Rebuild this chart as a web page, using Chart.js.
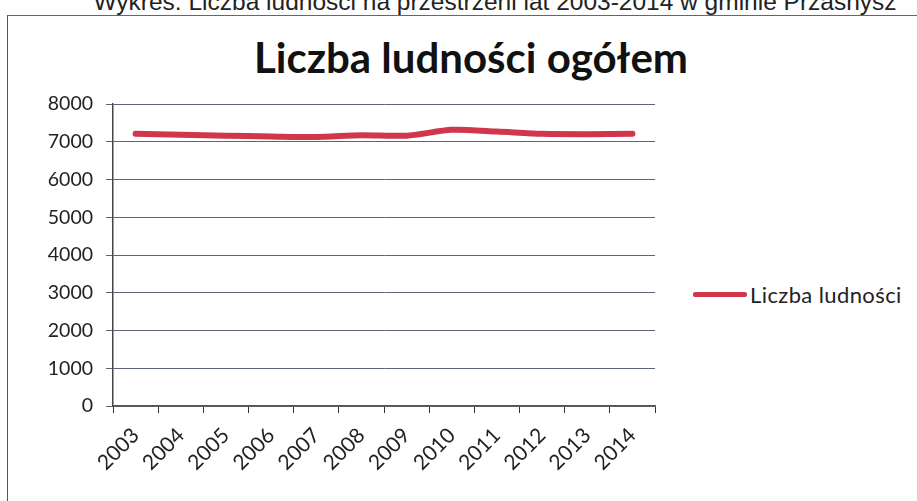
<!DOCTYPE html>
<html>
<head>
<meta charset="utf-8">
<script src="https://cdn.jsdelivr.net/npm/chart.js@4.4.1/dist/chart.umd.min.js"></script>
<style>
  html, body { margin: 0; padding: 0; background: #fff; }
  #wrap { position: relative; width: 917px; height: 501px; overflow: hidden; background: #fff; }
  #caption { position: absolute; left: 0; width: 990px; top: -12px; text-align: center;
    font-family: "Liberation Sans", Arial, sans-serif; font-size: 24.5px; color: #222; white-space: nowrap; }
  #frame { position: absolute; left: 7px; top: 15px; width: 920px; height: 500px;
    border-left: 1.5px solid #555; border-top: 1.5px solid #666; }
  #title { position: absolute; left: 0; width: 942px; top: 32px; text-align: center;
    font-family: Lato, "Open Sans", sans-serif; font-weight: bold; font-size: 42px; color: #111; }
  #legend { position: absolute; left: 693px; top: 281px; font-family: Lato, sans-serif; font-size: 22px; color: #222;
    display: flex; align-items: center; white-space: nowrap; letter-spacing: 0.4px; }
  #legend .swatch { display: inline-block; width: 54px; height: 5px; border-radius: 2px; margin-right: 3px; }
  canvas { position: absolute; left: 0; top: 0; }
</style>
</head>
<body>
<div id="wrap">
  <div id="caption">Wykres: Liczba ludności na przestrzeni lat 2003-2014 w gminie Przasnysz</div>
  <div id="frame"></div>
  <div id="title">Liczba ludności ogółem</div>
  <div id="legend"><span class="swatch"></span><span id="legendText"></span></div>
  <canvas id="c" width="917" height="501"></canvas>
</div>
<script>
const categories = ["2003","2004","2005","2006","2007","2008","2009","2010","2011","2012","2013","2014"];
const seriesLabel = "Liczba ludności";
const population = [7210, 7185, 7160, 7140, 7125, 7175, 7160, 7315, 7270, 7210, 7200, 7210];
const yTicks = [0, 1000, 2000, 3000, 4000, 5000, 6000, 7000, 8000];

const lineColor = "#d2364b";
document.querySelector('#legend .swatch').style.background = lineColor;
document.getElementById('legendText').textContent = seriesLabel;

new Chart(document.getElementById('c'), {
  type: 'line',
  data: {
    labels: categories,
    datasets: [{
      label: seriesLabel,
      data: population,
      borderColor: lineColor,
      backgroundColor: lineColor,
      borderWidth: 6,
      pointRadius: 0,
      tension: 0.25,
      borderCapStyle: 'round'
    }]
  },
  options: {
    responsive: false,
    animation: false,
    layout: { padding: { left: 0, right: 262, top: 104, bottom: 0 } },
    plugins: { legend: { display: false }, tooltip: { enabled: false } },
    scales: {
      x: {
        offset: true,
        grid: { display: true, drawOnChartArea: false, drawTicks: true, tickLength: 7, offset: true, color: '#333' },
        border: { display: true, color: '#555', width: 1.5 },
        ticks: { minRotation: 45, maxRotation: 45, autoSkip: false, padding: 10,
          font: { family: 'Lato', size: 21 }, color: '#222' },
        afterFit: s => { s.height = 95; }
      },
      y: {
        min: 0, max: 8000,
        afterBuildTicks: s => { s.ticks = yTicks.map(v => ({ value: v })); },
        grid: { color: '#5c6478', lineWidth: 1, tickLength: 7 },
        border: { display: true, color: '#444', width: 1.5 },
        ticks: { padding: 13, font: { family: 'Lato', size: 19.5 }, color: '#222',
          callback: v => String(v) },
        afterFit: s => { s.width = 113; }
      }
    }
  }
});
</script>
</body>
</html>
